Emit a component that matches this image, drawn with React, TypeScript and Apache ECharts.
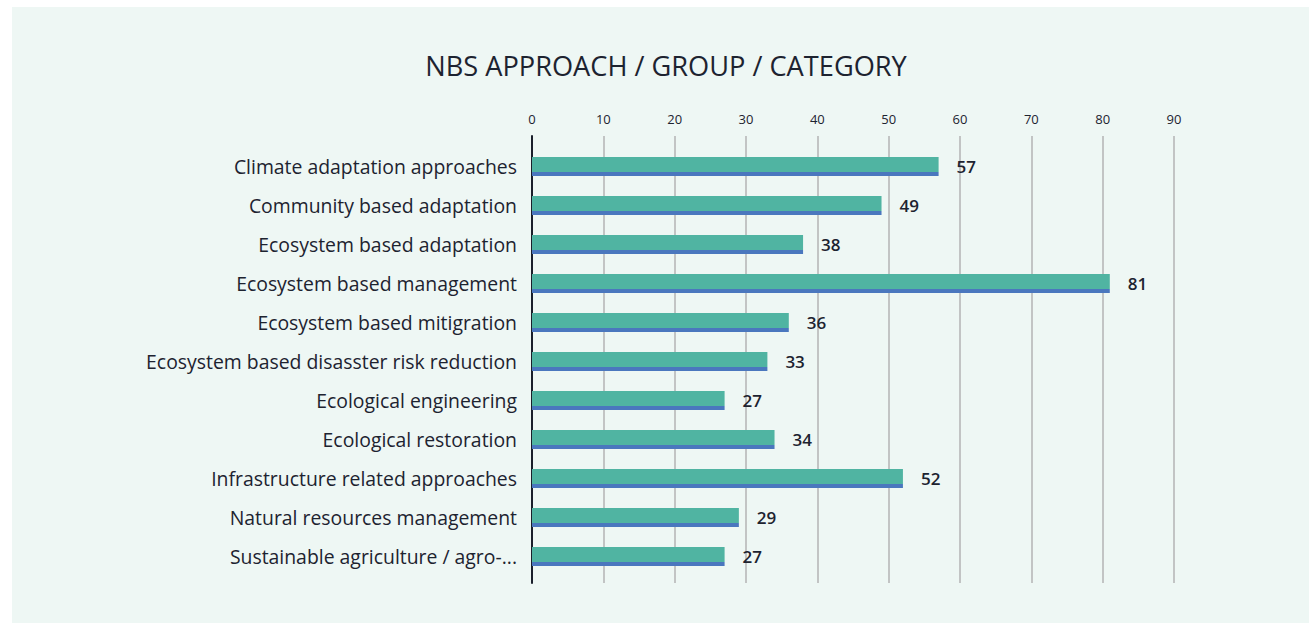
import React, { useEffect, useRef } from "react";
import * as echarts from "echarts";

const categories = [
  "Climate adaptation approaches",
  "Community based adaptation",
  "Ecosystem based adaptation",
  "Ecosystem based management",
  "Ecosystem based mitigration",
  "Ecosystem based disasster risk reduction",
  "Ecological engineering",
  "Ecological restoration",
  "Infrastructure related approaches",
  "Natural resources management",
  "Sustainable agriculture / agro-...",
];
const values = [57, 49, 38, 81, 36, 33, 27, 34, 52, 29, 27];
const titleText = "NBS APPROACH / GROUP / CATEGORY";
const axisMin = 0;
const axisMax = 90;
const axisStep = 10;

const FONT = "'Open Sans', sans-serif";
const TEXT = "#1d2330";

export default function App() {
  const ref = useRef<HTMLDivElement>(null);
  useEffect(() => {
    document.body.style.margin = "0";
    const chart = echarts.init(ref.current!, null, { renderer: "svg" });
    const barColor = new echarts.graphic.LinearGradient(0, 0, 0, 1, [
      { offset: 0, color: "#50b4a2" },
      { offset: 0.79, color: "#50b4a2" },
      { offset: 0.79, color: "#4a77be" },
      { offset: 1, color: "#4a77be" },
    ]);
    chart.setOption({
      animation: false,
      backgroundColor: "#ffffff",
      graphic: [
        {
          type: "rect",
          z: -10,
          shape: { x: 12, y: 7, width: 1297, height: 616 },
          style: { fill: "#eef7f4" },
        },
        {
          type: "text",
          x: 666,
          y: 65,
          style: {
            text: titleText,
            fill: TEXT,
            font: `500 27.2px ${FONT}`,
            textAlign: "center",
            textVerticalAlign: "middle",
          },
        },
      ],
      grid: [
        { left: 532, width: 642, top: 136, height: 447, containLabel: false },
        { left: 532, width: 642, top: 147, height: 429, containLabel: false },
      ],
      xAxis: [
        {
          gridIndex: 0,
          type: "value",
          position: "top",
          min: axisMin,
          max: axisMax,
          interval: axisStep,
          axisLine: { show: false },
          axisTick: { show: false },
          axisLabel: {
            margin: 11,
            fontSize: 13,
            fontWeight: 500,
            fontFamily: FONT,
            color: TEXT,
          },
          splitLine: { show: true, lineStyle: { color: "#c2c4c4", width: 2 } },
        },
        {
          gridIndex: 1,
          type: "value",
          min: axisMin,
          max: axisMax,
          show: false,
        },
      ],
      yAxis: [
        {
          gridIndex: 0,
          type: "value",
          axisLine: { show: true, lineStyle: { color: "#1a1f2b", width: 2 } },
          axisTick: { show: false },
          axisLabel: { show: false },
          splitLine: { show: false },
        },
        {
          gridIndex: 1,
          type: "category",
          inverse: true,
          data: categories,
          axisLine: { show: false },
          axisTick: { show: false },
          axisLabel: {
            margin: 15,
            fontSize: 19.4,
            fontWeight: 500,
            fontFamily: FONT,
            color: TEXT,
            padding: [0, 0, 4, 0],
          },
        },
      ],
      series: [
        {
          type: "bar",
          xAxisIndex: 1,
          yAxisIndex: 1,
          data: values,
          barWidth: 19,
          itemStyle: { color: barColor },
          label: {
            show: true,
            position: "right",
            distance: 18,
            fontSize: 17,
            fontWeight: 600,
            fontFamily: FONT,
            color: TEXT,
            padding: [0, 0, 2, 0],
          },
        },
      ],
    });
    return () => chart.dispose();
  }, []);
  return <div ref={ref} style={{ width: 1309, height: 623 }} />;
}
